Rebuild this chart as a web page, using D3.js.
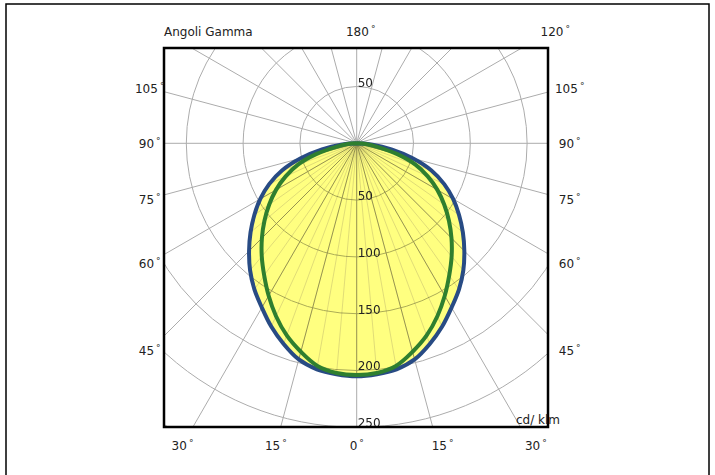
<!DOCTYPE html>
<html>
<head>
<meta charset="utf-8">
<script src="https://cdn.jsdelivr.net/npm/d3@7"></script>
<style>
  body { margin: 0; background: #fff; }
  text { font-family: "DejaVu Sans", sans-serif; font-size: 12px; fill: #222; }
</style>
</head>
<body>
<div id="chart"></div>
<script>
// Gamma angles (degrees from nadir) and intensities in cd/klm
var gammaAngles = [0, 5, 10, 15, 20, 25, 30, 35, 40, 45, 50, 55, 60, 65, 70, 75, 80, 85, 90];
var planeBlue  = [205, 204, 202, 197, 188, 178, 167, 157, 146, 134, 122, 110, 98, 85, 70, 51, 31, 14, 0];
var planeGreen = [204, 203, 199, 190, 180, 168, 155, 142, 130, 118, 106, 94, 82, 69, 55, 37, 19, 8, 0];

// Tick labels
var radiusTicks = [50, 100, 150, 200, 250];
var gridRadii = [50, 100, 150, 200, 250, 300];
var sideTicks = [45, 60, 75, 90, 105];
var bottomTicks = [-30, -15, 0, 15, 30];
var topTicks = [180, 120];

var svgWidth = 715;
var svgHeight = 475;

// Plot frame and pole position
var box = { left: 164, top: 48, right: 548, bottom: 427 };
var cx = 356.7, cy = 143.3;

var svg = d3.select("#chart")
  .append("svg")
  .attr("width", svgWidth)
  .attr("height", svgHeight);

// outer frame
svg.append("rect")
  .attr("x", 6).attr("y", 4)
  .attr("width", 703).attr("height", 490)
  .attr("fill", "none")
  .attr("stroke", "#000")
  .attr("stroke-width", 1.5);

svg.append("clipPath").attr("id", "plotClip")
  .append("rect")
  .attr("x", box.left).attr("y", box.top)
  .attr("width", box.right - box.left)
  .attr("height", box.bottom - box.top);

var rScale = d3.scaleLinear().domain([0, 250]).range([0, 284]);
var rad = function(g) { return g * Math.PI / 180; };

var chartGroup = svg.append("g").attr("clip-path", "url(#plotClip)");
var polar = chartGroup.append("g").attr("transform", `translate(${cx}, ${cy})`);

// grid circles
polar.selectAll(".ring")
  .data(gridRadii)
  .enter()
  .append("circle")
  .attr("r", d => rScale(d))
  .attr("fill", "none")
  .attr("stroke", "#acacac")
  .attr("stroke-width", 1);

// radial grid lines every 15 degrees
var spokes = d3.range(0, 360, 15);
polar.selectAll(".spoke")
  .data(spokes)
  .enter()
  .append("line")
  .attr("x1", 0).attr("y1", 0)
  .attr("x2", d => 400 * Math.sin(rad(d)))
  .attr("y2", d => 400 * Math.cos(rad(d)))
  .attr("stroke", "#acacac")
  .attr("stroke-width", 1);

// build full curves from -90 to 90
function fullCurve(values) {
  var pts = [];
  for (var i = gammaAngles.length - 1; i > 0; i--) pts.push({ g: -gammaAngles[i], v: values[i] });
  for (var j = 0; j < gammaAngles.length; j++) pts.push({ g: gammaAngles[j], v: values[j] });
  return pts;
}
var bluePts = fullCurve(planeBlue);
var greenPts = fullCurve(planeGreen);

var radialLine = d3.lineRadial()
  .angle(d => Math.PI - rad(d.g))
  .radius(d => rScale(d.v))
  .curve(d3.curveCatmullRom.alpha(0.5));

// yellow fill, multiplied over the grid
var fillGroup = polar.append("g").style("mix-blend-mode", "multiply");
fillGroup.append("path")
  .attr("d", radialLine(bluePts) + "Z")
  .attr("fill", "#ffff80");

fillGroup.selectAll(".seam")
  .data(bluePts)
  .enter()
  .append("line")
  .attr("x1", 0).attr("y1", 0)
  .attr("x2", d => rScale(d.v) * Math.sin(rad(d.g)))
  .attr("y2", d => rScale(d.v) * Math.cos(rad(d.g)))
  .attr("stroke", "#d2cd72")
  .attr("stroke-width", 0.7);

polar.append("path")
  .attr("d", radialLine(bluePts))
  .attr("fill", "none")
  .attr("stroke", "#284b84")
  .attr("stroke-width", 4);

polar.append("path")
  .attr("d", radialLine(greenPts))
  .attr("fill", "none")
  .attr("stroke", "#2f7f2f")
  .attr("stroke-width", 4);

// intensity labels along the vertical axis
polar.selectAll(".rlabel")
  .data(radiusTicks)
  .enter()
  .append("text")
  .attr("x", 1)
  .attr("y", d => rScale(d))
  .text(d => d);

polar.append("text")
  .attr("x", 1)
  .attr("y", -rScale(50))
  .text(50);

// plot frame
svg.append("rect")
  .attr("x", box.left).attr("y", box.top)
  .attr("width", box.right - box.left)
  .attr("height", box.bottom - box.top)
  .attr("fill", "none")
  .attr("stroke", "#000")
  .attr("stroke-width", 2.5);

// angle labels
function angleLabel(x, y, value) {
  var t = svg.append("text")
    .attr("x", x)
    .attr("y", y)
    .attr("text-anchor", "middle");
  t.append("tspan").text(Math.abs(value));
  t.append("tspan").attr("dx", 2).attr("dy", -4).style("font-size", "9px").text("°");
}

var colDx = 207;
sideTicks.forEach(function(a) {
  var y = cy + colDx / Math.tan(rad(a));
  angleLabel(cx - colDx, y + 5, a);
  angleLabel(cx + colDx + 6, y + 5, a);
});

var rowY = 445;
bottomTicks.forEach(function(a) {
  var x = cx + (rowY - cy) * Math.tan(rad(a)) + (a > 0 ? 5 : 0);
  angleLabel(x, rowY + 5, a);
});

var topY = 31;
topTicks.forEach(function(a) {
  var x = cx + (cy - topY) * Math.tan(rad(180 - a)) + 4;
  angleLabel(x, topY + 5, a);
});

svg.append("text")
  .attr("x", 164)
  .attr("y", 36)
  .text("Angoli Gamma");

svg.append("text")
  .attr("x", 516)
  .attr("y", 424)
  .text("cd/ klm");
</script>
</body>
</html>
